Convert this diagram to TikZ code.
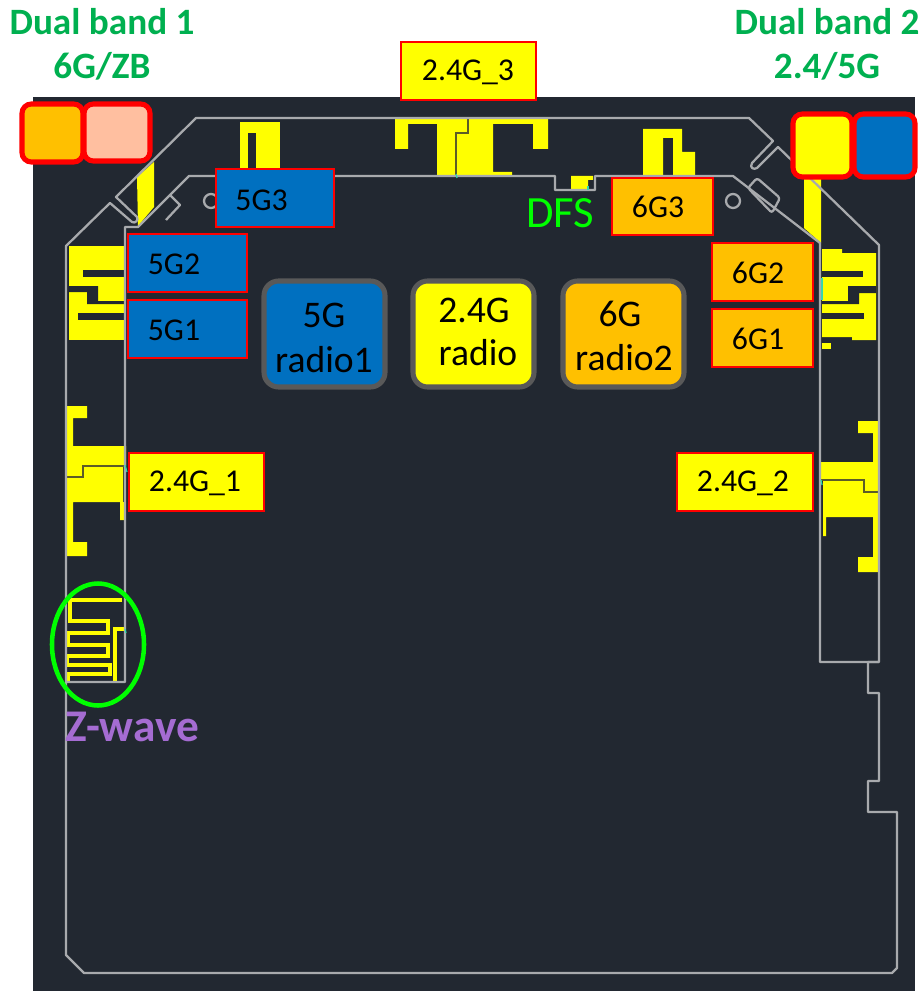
\documentclass[tikz,border=0pt]{standalone}
\usepackage{fontspec}
\setmainfont{Carlito}
\definecolor{bgdark}{HTML}{222831}
\definecolor{pcbline}{HTML}{A8AAAD}
\definecolor{ant}{HTML}{FFFF00}
\definecolor{seam}{HTML}{5C5C28}
\definecolor{boxblue}{HTML}{0070C0}
\definecolor{boxorange}{HTML}{FFC000}
\definecolor{boxpink}{HTML}{FFBFA0}
\definecolor{boxred}{HTML}{FF0000}
\definecolor{radioedge}{HTML}{595959}
\definecolor{titlegreen}{HTML}{00B050}
\definecolor{limegreen}{HTML}{00FF00}
\definecolor{zpurple}{HTML}{A56CD2}
\definecolor{feedcyan}{HTML}{30D8B0}
\tikzset{
  pcb/.style={draw=pcbline,line width=1.7pt,line join=round},
  antenna/.style={fill=ant,draw=none},
  slotcut/.style={fill=bgdark,draw=none},
  seamline/.style={draw=seam,line width=1.1pt},
  feedmark/.style={draw=feedcyan,line width=0.9pt},
  meander/.style={draw=ant,line width=3.2pt,line join=miter},
  portbox/.style={draw=boxred,line width=1.6pt},
  bandbox/.style={draw=boxred,line width=3.8pt,rounded corners=7pt},
  radiobox/.style={draw=radioedge,line width=3.8pt,rounded corners=11pt},
  porttext/.style={font=\fontsize{23.8}{28}\selectfont,text=black,inner sep=0pt},
  radiotext/.style={font=\fontsize{28.2}{33}\selectfont,text=black,inner sep=0pt},
  titletext/.style={font=\fontsize{27.9}{33}\selectfont\bfseries,text=titlegreen,inner sep=0pt},
}
\begin{document}
\begin{tikzpicture}[x=0.75pt,y=-0.75pt]
\useasboundingbox (0,0) rectangle (921,991);
\fill[white] (0,0) rectangle (921,991);
\fill[bgdark] (33,97) rectangle (915,991);

% antennas
\path[antenna] (137,177)--(154,162)--(154,207)--(138,226)--cycle;
\path[antenna] (240,122)--(280,122)--(280,172)--(240,172)--cycle;
\path[slotcut] (248,133) rectangle (256,172);
% left 5G
\path[antenna] (69,246) rectangle (125,340);
\path[slotcut] (83,270) rectangle (125,277);
\path[slotcut] (69,286)--(98,286)--(98,301)--(125,301)--(125,304)--(87,304)--(87,292)--(69,292)--cycle;
\path[slotcut] (78,313) rectangle (125,320);
\draw[feedmark] (125,270)--(125,312);
% top middle
\path[antenna] (395,118)--(548,118)--(548,149)--(533,149)--(533,124)--(493,124)--(493,172)--(512,172)--(512,176)--(437,176)--(437,124)--(408,124)--(408,149)--(395,149)--cycle;
\draw[seamline] (468,118)--(468,133)--(456,133)--(456,176);
% DFS stub
\path[antenna] (571,176)--(593,176)--(593,180)--(588,180)--(588,189)--(571,189)--cycle;
% 6G3
\path[antenna] (643,129)--(682,129)--(682,152)--(695,152)--(695,176)--(673,176)--(673,138)--(663,138)--(663,176)--(643,176)--cycle;
% right strip
\path[antenna] (804,175)--(821,175)--(821,243)--(804,228)--cycle;
% right 5G/6G
\path[antenna] (822,249)--(842,249)--(842,253)--(876,253)--(876,340)--(852,340)--(852,337)--(822,337)--cycle;
\path[slotcut] (822,271) rectangle (863,277);
\path[slotcut] (848,286)--(876,286)--(876,293)--(859,293)--(859,304)--(822,304)--(822,301)--(848,301)--cycle;
\path[slotcut] (822,313) rectangle (864,319);
\path[antenna] (822,343) rectangle (831,349);
\draw[feedmark] (822,278)--(822,300);
% 2.4G_1
\path[antenna] (67,406)--(87,406)--(87,418)--(73,418)--(73,446)--(126,446)--(126,466)--(123,466)--(123,502)--(124,502)--(124,520)--(120,520)--(120,502)--(73,502)--(73,542)--(87,542)--(87,556)--(67,556)--cycle;
\draw[seamline] (67,477)--(83,477)--(83,466)--(125,466);
% 2.4G_2
\path[antenna] (879,421)--(858,421)--(858,433)--(873,433)--(873,462)--(821,462)--(821,480)--(823,480)--(823,536)--(826,536)--(826,517)--(873,517)--(873,557)--(858,557)--(858,572)--(879,572)--cycle;
\draw[seamline] (821,480)--(864,480)--(864,492)--(879,492);
% Z-wave meander
\draw[meander] (122,600)--(70,600)--(70,621)--(108,621)--(108,633)--(68,633)--(68,645)--(108,645)--(108,656)--(67,656)--(67,665)--(110,665)--(110,674)--(68,674)--(68,683);
\draw[meander] (115,683)--(115,629)--(125,629);

% board outline
\draw[pcb] (66,955)--(66,246)--(110,203)--(132,222)
  .. controls (135,224) and (139,220) .. (137,217)
  --(116,197)--(196,118)--(749,118)--(773,141)--(752,163)
  .. controls (749,168) and (754,170) .. (757,168)
  --(778,147)--(879,245)--(879,662)--(868,662)--(868,693)--(879,693)--(879,781)--(868,781)--(868,812)--(897,812)--(897,968)--(892,973)--(84,973)--cycle;
\draw[pcb] (66,682)--(125,682)--(125,227)--(138,227)--(189,176)--(555,176)--(555,190)--(595,190)--(595,176)--(733,176)--(820,243)--(820,662)--(879,662);
\draw[pcb] (170,195)--(180,205)--(166,220);
\draw[pcb] (211,201) circle[radius=7];
\draw[pcb] (733,201) circle[radius=7];
\draw[pcb,rounded corners=2pt] (748,188)--(757,178)--(780,198)--(772,213)--cycle;
\draw[feedmark] (125,465)--(127,472);
\draw[feedmark] (821,480)--(822,485);
\draw[feedmark] (125,629)--(126,633);
\draw[feedmark] (456,174)--(457,178);
\draw[feedmark] (588,186)--(588,190);

% Z-wave ring
\draw[draw=limegreen,line width=3.4pt] (98,644.5) ellipse[x radius=46,y radius=61];

% port boxes
\draw[portbox,fill=boxblue] (216,169) rectangle (334,227);
\draw[portbox,fill=boxblue] (128,234) rectangle (247,292);
\draw[portbox,fill=boxblue] (128,300) rectangle (247,358);
\draw[portbox,fill=boxorange] (612,178) rectangle (713,235);
\draw[portbox,fill=boxorange] (712,243) rectangle (813,301);
\draw[portbox,fill=boxorange] (712,309) rectangle (813,367);
\draw[portbox,fill=ant] (129,453) rectangle (264,511);
\draw[portbox,fill=ant] (677,453) rectangle (813,511);
\draw[portbox,fill=ant] (401,42) rectangle (536,100);

% radio boxes
\draw[radiobox,fill=boxblue] (264,281) rectangle (385,387);
\draw[radiobox,fill=ant] (413,281) rectangle (534,387);
\draw[radiobox,fill=boxorange] (563,281) rectangle (684,387);

% dual band swatches
\draw[bandbox,fill=boxorange] (22,104) rectangle (83,162);
\draw[bandbox,fill=boxpink] (84,104) rectangle (150,161);
\draw[bandbox,fill=ant] (793,114) rectangle (852,177);
\draw[bandbox,fill=boxblue] (854,114) rectangle (915,177);

% texts
\node[porttext] (t5g3) at (261.5,200) {5G3};
\node[porttext] (t5g2) at (174,264) {5G2};
\node[porttext] (t5g1) at (174,330) {5G1};
\node[porttext] (t6g3) at (658,207) {6G3};
\node[porttext] (t6g2) at (758,273) {6G2};
\node[porttext] (t6g1) at (758,339) {6G1};
\node[porttext] (t241) at (195,483) {2.4G\_1};
\node[porttext] (t242) at (743,483) {2.4G\_2};
\node[porttext] (t243) at (468,72) {2.4G\_3};
\node[radiotext] (r5a) at (324,315) {5G};
\node[radiotext] (r5b) at (324,360) {radio1};
\node[radiotext] (r2a) at (474,310) {2.4G};
\node[radiotext] (r2b) at (478,353) {radio};
\node[radiotext] (r6a) at (620,314) {6G};
\node[radiotext] (r6b) at (624,358) {radio2};
\node[titletext] (d1a) at (102,22) {Dual band 1};
\node[titletext] (d1b) at (102,66) {6G/ZB};
\node[titletext] (d2a) at (827,22) {Dual band 2};
\node[titletext] (d2b) at (827,66) {2.4/5G};
\node[font=\fontsize{33.5}{38}\selectfont,text=limegreen,inner sep=0pt] (dfs) at (560,213) {DFS};
\node[font=\fontsize{34}{39}\selectfont\bfseries,text=zpurple,inner sep=0pt] (zw) at (132,727) {Z-wave};
\end{tikzpicture}
\end{document}
